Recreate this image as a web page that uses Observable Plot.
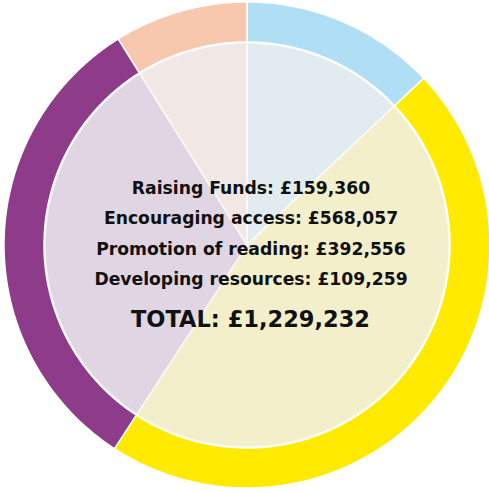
<!DOCTYPE html>
<html>
<head>
<meta charset="utf-8">
<script src="https://cdn.jsdelivr.net/npm/d3@7"></script>
<script src="https://cdn.jsdelivr.net/npm/@observablehq/plot@0.6"></script>
<style>
  html, body { margin: 0; padding: 0; background: #fff; }
  #chart svg { display: block; }
</style>
</head>
<body>
<div id="chart"></div>
<script>
// ---- data ----
const categories = ["Raising Funds", "Encouraging access", "Promotion of reading", "Developing resources"];
const amounts = [159360, 568057, 392556, 109259];
const totalLabel = "TOTAL: £1,229,232";
const ringColors = ["#B0DFF5", "#FFEA00", "#8E3B8A", "#F8C8AE"];
const tintColors = ["#E2EBEF", "#F2EFCA", "#E0D5E3", "#F1E7E5"];

// ---- geometry derived from values ----
const ringOuter = 1;
const ringInner = 203 / 243;
const pieRadius = 202 / 243;
const arcs = d3.pie().sort(null)(amounts);

function arcPoints(a0, a1, r) {
  const n = Math.max(2, Math.ceil(Math.abs(a1 - a0) / (Math.PI / 360)));
  return d3.range(n + 1).map(i => {
    const a = a0 + (a1 - a0) * i / n;
    return [r * Math.sin(a), r * Math.cos(a)];
  });
}

const ringPts = [];
const piePts = [];
arcs.forEach((a, i) => {
  const outer = arcPoints(a.startAngle, a.endAngle, ringOuter);
  const inner = arcPoints(a.endAngle, a.startAngle, ringInner);
  [...outer, ...inner].forEach(([x, y]) => ringPts.push({k: i, x, y, c: ringColors[i]}));
  piePts.push({k: i, x: 0, y: 0, c: tintColors[i]});
  arcPoints(a.startAngle, a.endAngle, pieRadius).forEach(([x, y]) => piePts.push({k: i, x, y, c: tintColors[i]}));
});

const labelLines = categories.map((c, i) => `${c}: £${d3.format(",")(amounts[i])}`);

const chart = Plot.plot({
  width: 489,
  height: 491,
  margin: 0,
  x: {domain: [-1, 1], range: [3.5, 489.5], axis: null},
  y: {domain: [-1, 1], range: [487.5, 1.5], axis: null},
  color: {type: "identity"},
  marks: [
    Plot.line(ringPts, {x: "x", y: "y", z: "k", fill: "c", stroke: "white", strokeWidth: 1.5, curve: "linear-closed"}),
    Plot.line(piePts, {x: "x", y: "y", z: "k", fill: "c", stroke: "white", strokeOpacity: 0.6, strokeWidth: 1.8, curve: "linear-closed"}),
    Plot.text([labelLines.join("\n")], {
      x: () => 0, y: () => 0, text: d => d, dx: 4, dy: -15.5,
      lineHeight: 1.773, fontSize: 17.2, fontWeight: 700, fill: "#111",
      fontFamily: "'DejaVu Sans', sans-serif"
    }),
    Plot.text([totalLabel], {
      x: () => 0, y: () => 0, text: d => d, dx: 3.5, dy: 74.5,
      fontSize: 22.5, fontWeight: 700, fill: "#111",
      fontFamily: "'DejaVu Sans', sans-serif"
    })
  ]
});
document.getElementById("chart").appendChild(chart);
</script>
</body>
</html>
